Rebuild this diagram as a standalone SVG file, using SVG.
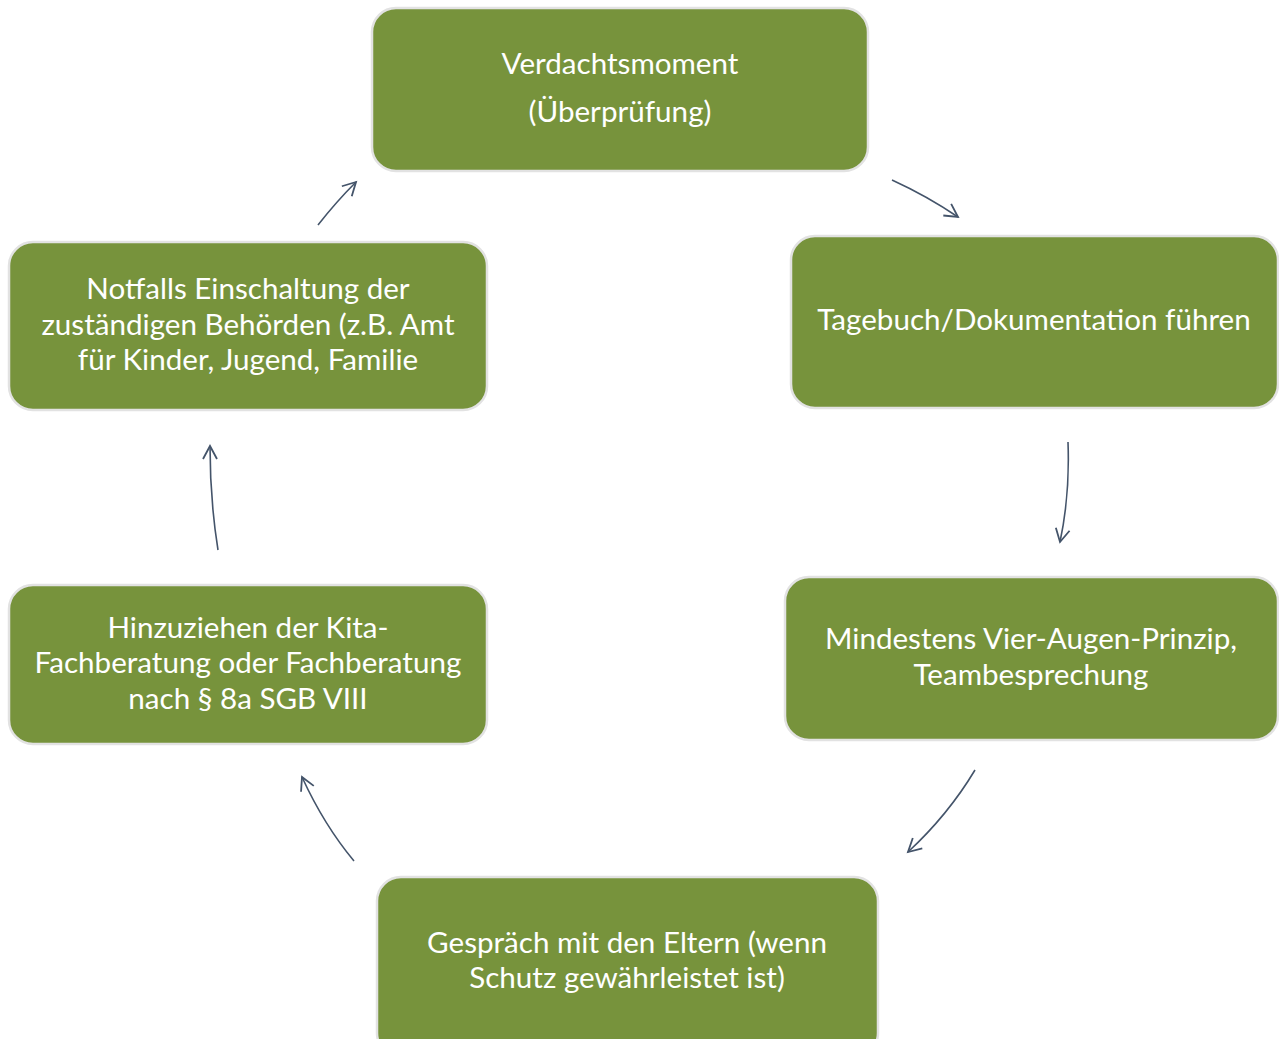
<svg xmlns="http://www.w3.org/2000/svg" width="1279" height="1039" viewBox="0 0 1279 1039">
<defs>
<style>
.box{fill:#77933c;stroke:#e2e2e2;stroke-width:2.5}
.t{font-family:Lato,"Open Sans","Liberation Sans",sans-serif;font-size:29.6px;fill:#ffffff;text-anchor:middle}
.c{fill:none;stroke:#44546a;stroke-width:1.6;marker-end:url(#ah)}
</style>
<marker id="ah" markerUnits="userSpaceOnUse" markerWidth="20" markerHeight="20" refX="14" refY="8" orient="auto" viewBox="0 0 20 16">
<path d="M1,1 L14,8 L1,15" fill="none" stroke="#44546a" stroke-width="1.8"/>
</marker>
</defs>
<rect width="1279" height="1039" fill="#ffffff"/>
<g id="n1"><rect class="box" x="372" y="8" width="496" height="163" rx="24"/>
<text class="t" x="620" y="74">Verdachtsmoment</text>
<text class="t" x="620" y="122">(Überprüfung)</text></g>
<g id="n2"><rect class="box" x="791" y="236" width="487" height="172" rx="24"/>
<text class="t" x="1034" y="330">Tagebuch/Dokumentation führen</text></g>
<g id="n3"><rect class="box" x="785" y="577" width="493" height="163" rx="24"/>
<text class="t" x="1031" y="649">Mindestens Vier-Augen-Prinzip,</text>
<text class="t" x="1031" y="685">Teambesprechung</text></g>
<g id="n4"><rect class="box" x="377" y="877" width="501" height="180" rx="24"/>
<text class="t" x="627" y="953">Gespräch mit den Eltern (wenn</text>
<text class="t" x="627" y="988">Schutz gewährleistet ist)</text></g>
<g id="n5"><rect class="box" x="9" y="585" width="478" height="159" rx="24"/>
<text class="t" x="248" y="638">Hinzuziehen der Kita-</text>
<text class="t" x="248" y="673">Fachberatung oder Fachberatung</text>
<text class="t" x="248" y="709">nach § 8a SGB VIII</text></g>
<g id="n6"><rect class="box" x="9" y="242" width="478" height="168" rx="24"/>
<text class="t" x="248" y="299">Notfalls Einschaltung der</text>
<text class="t" x="248" y="335">zuständigen Behörden (z.B. Amt</text>
<text class="t" x="248" y="370">für Kinder, Jugend, Familie</text></g>
<g id="connectors">
<path class="c" d="M892,180 Q927,196 958,217"/>
<path class="c" d="M1068,442 Q1070,495 1060,542"/>
<path class="c" d="M975,770 Q948,815 908,852"/>
<path class="c" d="M354,861 Q324,825 302,777"/>
<path class="c" d="M218,550 Q210,500 210,446"/>
<path class="c" d="M318,225 Q336,202 356,182"/>
</g>
</svg>
